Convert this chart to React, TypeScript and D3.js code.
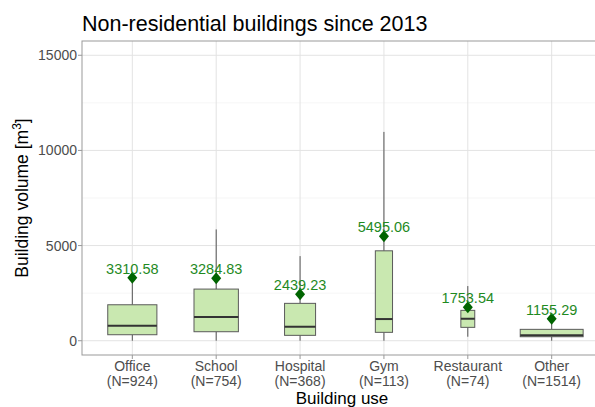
import React from 'react';
import * as d3 from 'd3';

// categories and box statistics
const categories = ['Office', 'School', 'Hospital', 'Gym', 'Restaurant', 'Other'];
const counts = [924, 754, 368, 113, 74, 1514];
const lowerWhisker = [0, 0, 0, 0, 210, 0];
const q1 = [315, 473, 283, 441, 703, 210];
const medians = [787, 1244, 735, 1139, 1155, 283];
const q3 = [1890, 2714, 1964, 4725, 1596, 598];
const upperWhisker = [3350, 5849, 4447, 10973, 2872, 1170];
const means = [3310.58, 3284.83, 2439.23, 5495.06, 1753.54, 1155.29];
const yMajor = [0, 5000, 10000, 15000];
const yMinor = [2500, 7500, 12500];

const W = 595;
const H = 407;
const panel = { left: 82, right: 602, top: 41, bottom: 355 };
const FONT = 'Liberation Sans, Arial, sans-serif';

const App: React.FC = () => {
  const x = d3.scalePoint<string>()
    .domain(categories)
    .range([panel.left, panel.right])
    .padding(0.6);

  const y = d3.scaleLinear()
    .domain([-750, 15750])
    .range([panel.bottom, panel.top]);

  const step = x.step();
  const maxRoot = Math.sqrt(d3.max(counts) as number);
  const boxWidth = (n: number) => 0.75 * step * Math.sqrt(n) / maxRoot;

  return (
    <svg width={W} height={H} style={{ position: 'absolute', left: 0, top: 0, background: '#fff' }} fontFamily={FONT}>
      <rect x={0} y={0} width={W} height={H} fill="#fff" />

      {/* title */}
      <text x={panel.left} y={31} fontSize={21.5} fill="#000">Non-residential buildings since 2013</text>

      {/* grid */}
      {yMinor.map(v => (
        <line key={'mi' + v} x1={panel.left} x2={panel.right} y1={y(v)} y2={y(v)} stroke="#eeeeee" strokeWidth={0.6} />
      ))}
      {yMajor.map(v => (
        <line key={'ma' + v} x1={panel.left} x2={panel.right} y1={y(v)} y2={y(v)} stroke="#e3e3e3" strokeWidth={1} />
      ))}
      {categories.map(c => (
        <line key={'vx' + c} x1={x(c)} x2={x(c)} y1={panel.top} y2={panel.bottom} stroke="#e3e3e3" strokeWidth={1} />
      ))}

      {/* boxes */}
      {categories.map((c, i) => {
        const cx = x(c) as number;
        const bw = boxWidth(counts[i]);
        return (
          <g key={'box' + c}>
            <line x1={cx} x2={cx} y1={y(q3[i])} y2={y(upperWhisker[i])} stroke="#555" strokeWidth={1} />
            <line x1={cx} x2={cx} y1={y(q1[i])} y2={y(lowerWhisker[i])} stroke="#555" strokeWidth={1} />
            <rect x={cx - bw / 2} y={y(q3[i])} width={bw} height={y(q1[i]) - y(q3[i])}
              fill="#c9e8b0" stroke="#5a5a5a" strokeWidth={1} />
            <line x1={cx - bw / 2} x2={cx + bw / 2} y1={y(medians[i])} y2={y(medians[i])} stroke="#333" strokeWidth={2} />
          </g>
        );
      })}

      {/* means */}
      {categories.map((c, i) => {
        const cx = x(c) as number;
        const cy = y(means[i]);
        return (
          <g key={'mean' + c}>
            <path d={`M${cx},${cy - 6}L${cx + 5},${cy}L${cx},${cy + 6}L${cx - 5},${cy}Z`} fill="#006400" />
            <text x={cx} y={cy - 4} textAnchor="middle" fontSize={14.5} fill="#1f8a1f">{means[i].toFixed(2)}</text>
          </g>
        );
      })}

      {/* panel border */}
      <rect x={panel.left} y={panel.top} width={panel.right - panel.left} height={panel.bottom - panel.top}
        fill="none" stroke="#999" strokeWidth={1} />

      {/* y axis */}
      {yMajor.map(v => (
        <g key={'yt' + v}>
          <line x1={panel.left - 4} x2={panel.left} y1={y(v)} y2={y(v)} stroke="#999" />
          <text x={panel.left - 5} y={y(v) + 5} textAnchor="end" fontSize={14} fill="#4d4d4d">{v}</text>
        </g>
      ))}

      {/* x axis */}
      {categories.map((c, i) => {
        const cx = x(c) as number;
        return (
          <g key={'xt' + c}>
            <line x1={cx} x2={cx} y1={panel.bottom} y2={panel.bottom + 4} stroke="#999" />
            <text x={cx} y={370.5} textAnchor="middle" fontSize={14} fill="#4d4d4d">{c}</text>
            <text x={cx} y={386} textAnchor="middle" fontSize={14} fill="#4d4d4d">{`(N=${counts[i]})`}</text>
          </g>
        );
      })}

      {/* axis titles */}
      <text x={(panel.left + panel.right) / 2} y={403.5} textAnchor="middle" fontSize={17} fill="#000">Building use</text>
      <text transform={`translate(28,${(panel.top + panel.bottom) / 2}) rotate(-90)`} textAnchor="middle" fontSize={17.5} fill="#000">
        Building volume [m<tspan fontSize={12} dy={-7}>3</tspan><tspan dy={7}>]</tspan>
      </text>
    </svg>
  );
};

export default App;
